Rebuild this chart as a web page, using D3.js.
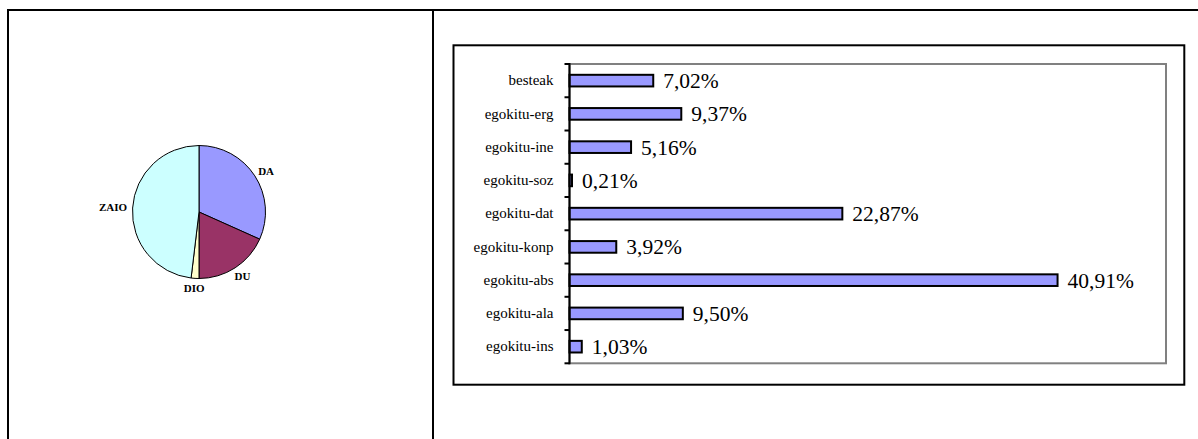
<!DOCTYPE html>
<html>
<head>
<meta charset="utf-8">
<script src="https://cdn.jsdelivr.net/npm/d3@7"></script>
<style>
  html, body { margin: 0; padding: 0; background: #fff; }
  svg { display: block; }
  svg text { font-family: "Liberation Serif", "Times New Roman", "DejaVu Serif", serif; }
</style>
</head>
<body>
<svg id="chart" width="1198" height="439"></svg>
<script>
// ---- data ----
const pieLabels = ["DA", "DU", "DIO", "ZAIO"];
const pieValues = [31.7, 18.3, 1.9, 48.1];
const pieColors = ["#9999FF", "#993366", "#FFFFCC", "#CCFFFF"];

const barCategories = ["besteak", "egokitu-erg", "egokitu-ine", "egokitu-soz", "egokitu-dat",
                       "egokitu-konp", "egokitu-abs", "egokitu-ala", "egokitu-ins"];
const barValues = [7.02, 9.37, 5.16, 0.21, 22.87, 3.92, 40.91, 9.50, 1.03];
const barLabels = ["7,02%", "9,37%", "5,16%", "0,21%", "22,87%", "3,92%", "40,91%", "9,50%", "1,03%"];
const xDomain = [0, 50];

const SERIF = '"Liberation Serif", "Times New Roman", "DejaVu Serif", serif';

const svg = d3.select("#chart");
svg.append("rect").attr("width", 1198).attr("height", 439).attr("fill", "#fff");

// ---- outer table frame ----
const frame = svg.append("g").attr("stroke", "#000").attr("stroke-width", 2).attr("fill", "none");
frame.append("line").attr("x1", 8).attr("x2", 1198).attr("y1", 10).attr("y2", 10);
frame.append("line").attr("x1", 8).attr("x2", 8).attr("y1", 9).attr("y2", 439);
frame.append("line").attr("x1", 433).attr("x2", 433).attr("y1", 9).attr("y2", 439);

// ---- pie ----
const cx = 199, cy = 212, r = 66.5;
const pie = d3.pie().sort(null).value(d => d)(pieValues);
const arc = d3.arc().innerRadius(0).outerRadius(r);
const pg = svg.append("g").attr("transform", `translate(${cx},${cy})`);
pg.selectAll("path").data(pie).join("path")
  .attr("d", arc)
  .attr("fill", (d, i) => pieColors[i])
  .attr("stroke", "#000")
  .attr("stroke-width", 1);

const labelR = 72;
pg.selectAll("text").data(pie).join("text")
  .style("font-family", SERIF)
  .attr("font-weight", "bold")
  .attr("font-size", 11)
  .attr("text-anchor", "middle")
  .attr("dy", "0.35em")
  .text((d, i) => pieLabels[i])
  .each(function(d) {
    const a = (d.startAngle + d.endAngle) / 2;
    const w = this.getComputedTextLength();
    const h = 8;
    const x = Math.sin(a) * labelR + Math.sin(a) * w / 2;
    const y = -Math.cos(a) * labelR - Math.cos(a) * h / 2;
    d3.select(this).attr("x", x).attr("y", y);
  });

// ---- bar chart box ----
svg.append("rect")
  .attr("x", 453.5).attr("y", 45.3).attr("width", 730.8).attr("height", 339.4)
  .attr("fill", "none").attr("stroke", "#000").attr("stroke-width", 2);

const plotLeft = 569.5, plotRight = 1166, plotTop = 64, plotBottom = 363.3;
const x = d3.scaleLinear().domain(xDomain).range([plotLeft, plotRight]);
const y = d3.scaleBand().domain(barCategories).range([plotTop, plotBottom])
  .paddingInner(0.65).paddingOuter(0.325);

// plot area border (gray)
svg.append("rect")
  .attr("x", plotLeft).attr("y", plotTop)
  .attr("width", plotRight - plotLeft).attr("height", plotBottom - plotTop)
  .attr("fill", "none").attr("stroke", "#808080").attr("stroke-width", 2);

// bars
svg.append("g").selectAll("rect").data(barValues).join("rect")
  .attr("x", x(0))
  .attr("y", (d, i) => y(barCategories[i]))
  .attr("width", d => x(d) - x(0))
  .attr("height", y.bandwidth())
  .attr("fill", "#9999FF")
  .attr("stroke", "#000")
  .attr("stroke-width", 2);

// value labels
svg.append("g").selectAll("text").data(barValues).join("text")
  .attr("x", d => x(d) + 10)
  .attr("y", (d, i) => y(barCategories[i]) + y.bandwidth() / 2)
  .attr("dy", "0.35em")
  .style("font-family", SERIF)
  .attr("font-size", 21.5)
  .attr("fill", "#000")
  .text((d, i) => barLabels[i]);

// category axis
const yAxis = svg.append("g")
  .attr("transform", `translate(${plotLeft},0)`)
  .call(d3.axisLeft(y).tickSize(0).tickPadding(16));
yAxis.select(".domain").remove();
yAxis.attr("font-family", null);
yAxis.selectAll("text")
  .style("font-family", SERIF)
  .attr("font-size", 15)
  .attr("fill", "#000");

// axis line and boundary ticks
const step = y.step();
const bounds = d3.range(barCategories.length + 1).map(i => plotTop + i * step);
const ax = svg.append("g").attr("stroke", "#000").attr("stroke-width", 2);
ax.append("line").attr("x1", plotLeft).attr("x2", plotLeft).attr("y1", plotTop - 1).attr("y2", plotBottom + 1);
ax.selectAll("line.tick").data(bounds).join("line").attr("class", "tick")
  .attr("x1", plotLeft - 5).attr("x2", plotLeft).attr("y1", d => d).attr("y2", d => d);
</script>
</body>
</html>
